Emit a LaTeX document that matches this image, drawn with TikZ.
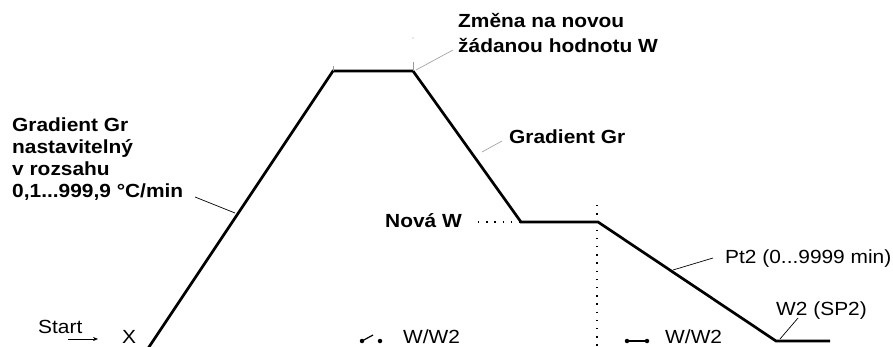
\documentclass[tikz,border=0pt]{standalone}
\usepackage{fontspec}
\setmainfont{Liberation Sans}[FakeStretch=1.1]
\usetikzlibrary{arrows.meta}
\begin{document}
\begin{tikzpicture}[x=1pt,y=-1pt,
  curve/.style={line width=2.7pt,line join=miter},
  leader/.style={line width=0.7pt},
  faint/.style={line width=0.6pt,black!40},
  dotline/.style={line width=1.4pt,dash pattern=on 1.4pt off 6.8pt},
  lbl/.style={inner sep=0pt,anchor=base west,font=\fontsize{19}{22}\selectfont\bfseries},
  plain/.style={inner sep=0pt,anchor=base west,font=\fontsize{19}{22}\selectfont},
  pin/.style={circle,fill,inner sep=0pt,minimum size=4.5pt}]
\useasboundingbox (0,0) rectangle (893,347);

% setpoint profile
\coordinate (p0) at (147,350);
\coordinate (p1) at (333,71);
\coordinate (p2) at (413,71);
\coordinate (p3) at (521,222);
\coordinate (p4) at (598,222);
\coordinate (p5) at (776,341);
\coordinate (p6) at (830,341);
\draw[curve] (p0) -- (p1) -- (p2) -- (p3) -- (p4) -- (p5) -- (p6);

% dotted guides
\coordinate (nwEnd) at (478,222);
\coordinate (vTop) at (597,205);
\coordinate (vBot) at (597,347);
\draw[dotline] (nwEnd) -- (p3);
\draw[dotline] (vTop) -- (vBot);

% small ticks at the plateau
\draw[faint] (333,66) -- (p1);
\draw[faint] (413,62) -- (p2);
\fill[black!40] (413,38) circle (0.7pt);

% labels
\node[lbl] (g1) at (12,131.7) {Gradient Gr};
\node[lbl] (g2) at (12,153.5) {nastavitelný};
\node[lbl] (g3) at (12,175.5) {v rozsahu};
\node[lbl] (g4) at (12,197.5) {0,1...999,9 °C/min};
\node[lbl] (z1) at (458,28) {Změna na novou};
\node[lbl] (z2) at (458,53) {žádanou hodnotu W};
\node[lbl] (gr) at (509,144) {Gradient Gr};
\node[lbl] (nw) at (385,227) {Nová W};
\node[plain] (pt) at (725,263) {Pt2 (0...9999 min)};
\node[plain] (w2) at (776,315) {W2 (SP2)};
\node[plain] (st) at (38,333) {Start};
\node[plain] (x) at (122,343) {X};
\node[plain] (ww1) at (403,343) {W/W2};
\node[plain] (ww2) at (665,343) {W/W2};

% leader lines
\coordinate (a1) at (195,197);  \coordinate (a2) at (235,213);
\draw[leader] (a1) -- (a2);
\coordinate (b1) at (453,50);   \coordinate (b2) at (416,70);
\draw[faint] (b1) -- (b2);
\coordinate (c1) at (502,141);  \coordinate (c2) at (482,152);
\draw[faint] (c1) -- (c2);
\coordinate (d1) at (713,258);  \coordinate (d2) at (673,270);
\draw[leader] (d1) -- (d2);
\coordinate (e1) at (798,318);  \coordinate (e2) at (780,339);
\draw[leader] (e1) -- (e2);

% start arrow
\coordinate (s1) at (68,339);  \coordinate (s2) at (98,339);
\draw[leader,-{Stealth[length=5pt,width=4pt]}] (s1) -- (s2);

% open switch contact
\node[pin] (o1) at (362,341) {};
\node[pin] (o2) at (380,341) {};
\coordinate (o3) at (373,335);
\draw[line width=1.2pt] (o1.center) -- (o3);

% closed switch contact
\node[pin] (c3) at (627,341) {};
\node[pin] (c4) at (647,341) {};
\draw[line width=1.2pt] (c3) -- (c4);
\end{tikzpicture}
\end{document}
